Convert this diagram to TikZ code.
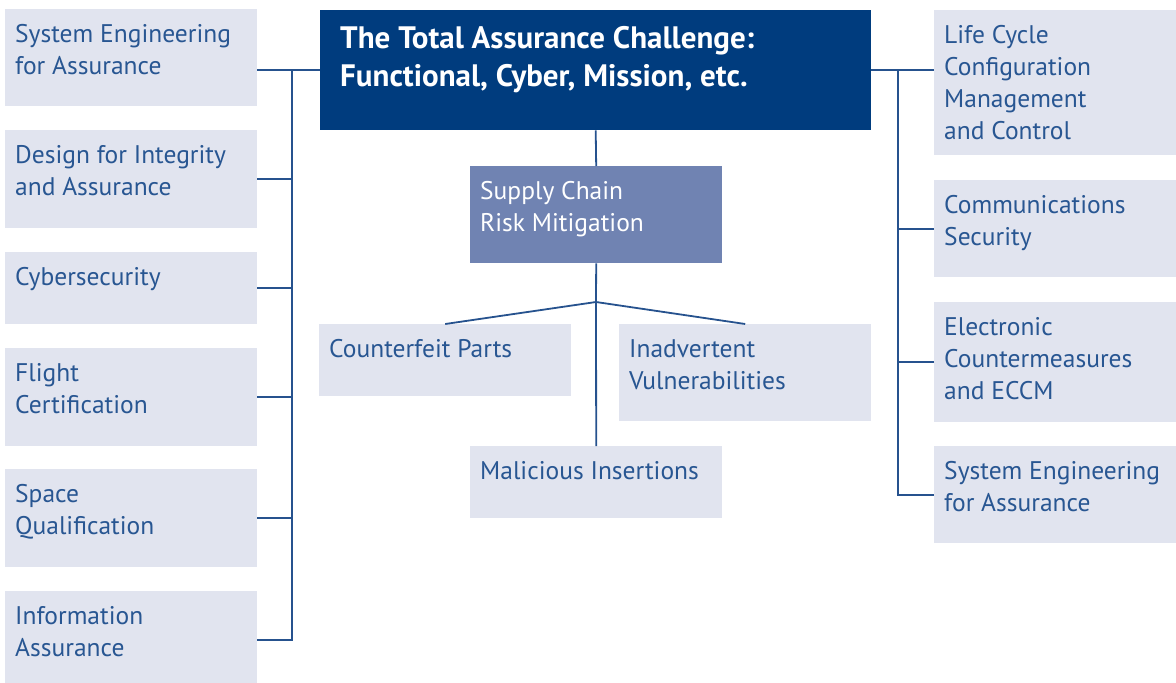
\documentclass[tikz,border=0pt]{standalone}
\usepackage{fontspec}
\setmainfont{PT Sans}
\usetikzlibrary{positioning}
\definecolor{titleblue}{RGB}{0,60,126}
\definecolor{boxgray}{RGB}{225,228,239}
\definecolor{supplyblue}{RGB}{112,131,178}
\definecolor{linkblue}{RGB}{38,82,142}
\definecolor{textblue}{RGB}{40,86,146}
\tikzset{
  box/.style={anchor=north west, fill=boxgray, inner sep=0pt, minimum width=252pt},
  boxtext/.style={anchor=base west, inner sep=0pt, text=textblue, font=\fontsize{25.5}{32}\selectfont},
  link/.style={draw=linkblue, line width=1.8pt},
}

\begin{document}
\begin{tikzpicture}[x=1pt,y=-1pt]
\useasboundingbox (0,0) rectangle (1176,683);

% top box and supply chain branch
\node[box, fill=titleblue, minimum width=551pt, minimum height=120pt] (title) at (320,10) {};
\node[boxtext, text=white, font=\bfseries\fontsize{31}{38}\selectfont] at ([shift={(20,38)}]title.north west) {\parbox[t]{530pt}{The Total Assurance Challenge:\\Functional, Cyber, Mission, etc.}};

\node[box, fill=supplyblue, minimum height=97pt] (supply) at (470,166) {};
\node[boxtext, text=white] at ([shift={(10,33)}]supply.north west) {\parbox[t]{240pt}{Supply Chain\\Risk Mitigation}};

\node[box, minimum height=72pt] (parts) at (319,324) {};
\node[boxtext] at ([shift={(10,33)}]parts.north west) {\parbox[t]{240pt}{Counterfeit Parts}};
\node[box, minimum height=97pt] (vuln) at (619,324) {};
\node[boxtext] at ([shift={(10,33)}]vuln.north west) {\parbox[t]{240pt}{Inadvertent\\Vulnerabilities}};
\node[box, minimum height=72pt] (malic) at (470,446) {};
\node[boxtext] at ([shift={(10,33)}]malic.north west) {\parbox[t]{240pt}{Malicious Insertions}};

% left column
\node[box, minimum height=97pt] (left1) at (5,9) {};
\node[boxtext] at ([shift={(10,33)}]left1.north west) {\parbox[t]{240pt}{System Engineering\\for Assurance}};
\node[box, minimum height=98pt] (left2) at (5,130) {};
\node[boxtext] at ([shift={(10,33)}]left2.north west) {\parbox[t]{240pt}{Design for Integrity\\and Assurance}};
\node[box, minimum height=72pt] (left3) at (5,252) {};
\node[boxtext] at ([shift={(10,33)}]left3.north west) {\parbox[t]{240pt}{Cybersecurity}};
\node[box, minimum height=98pt] (left4) at (5,348) {};
\node[boxtext] at ([shift={(10,33)}]left4.north west) {\parbox[t]{240pt}{Flight\\Certification}};
\node[box, minimum height=98pt] (left5) at (5,469) {};
\node[boxtext] at ([shift={(10,33)}]left5.north west) {\parbox[t]{240pt}{Space\\Qualification}};
\node[box, minimum height=98pt] (left6) at (5,591) {};
\node[boxtext] at ([shift={(10,33)}]left6.north west) {\parbox[t]{240pt}{Information\\Assurance}};

% right column
\node[box, minimum height=145pt] (right1) at (934,10) {};
\node[boxtext] at ([shift={(10,33)}]right1.north west) {\parbox[t]{240pt}{Life Cycle\\Configuration\\Management\\and Control}};
\node[box, minimum height=97pt] (right2) at (934,180) {};
\node[boxtext] at ([shift={(10,33)}]right2.north west) {\parbox[t]{240pt}{Communications\\Security}};
\node[box, minimum height=120pt] (right3) at (934,302) {};
\node[boxtext] at ([shift={(10,33)}]right3.north west) {\parbox[t]{240pt}{Electronic\\Countermeasures\\and ECCM}};
\node[box, minimum height=97pt] (right4) at (934,446) {};
\node[boxtext] at ([shift={(10,33)}]right4.north west) {\parbox[t]{240pt}{System Engineering\\for Assurance}};

% connectors
\coordinate (ljoin) at (292,70);
\coordinate (rjoin) at (898,70);
\coordinate (split) at (596,302);

\draw[link] (left1.east |- title.west) -- (title.west);
\draw[link] (ljoin) |- (left6.east);
\draw[link] (left2.east) -- (left2.east -| ljoin);
\draw[link] (left3.east) -- (left3.east -| ljoin);
\draw[link] (left4.east) -- (left4.east -| ljoin);
\draw[link] (left5.east) -- (left5.east -| ljoin);

\draw[link] (title.east) -- (title.east -| right1.west);
\draw[link] (rjoin) |- (right4.west);
\draw[link] (right2.west) -- (right2.west -| rjoin);
\draw[link] (right3.west) -- (right3.west -| rjoin);

\draw[link] (title.south) -- (supply.north);
\draw[link] (supply.south) -- (split);
\draw[link] (split) -- (parts.north);
\draw[link] (split) -- (vuln.north);
\draw[link] (split) -- (malic.north);

\end{tikzpicture}
\end{document}
